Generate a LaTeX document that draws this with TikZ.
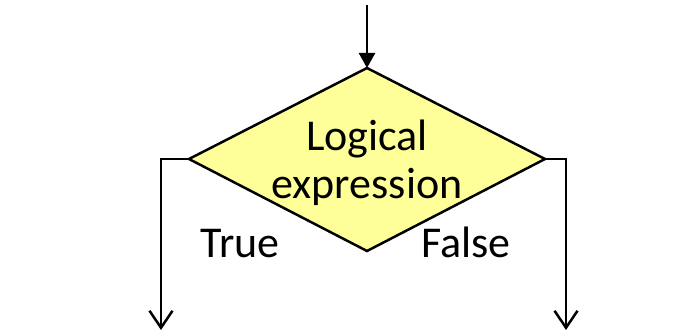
\documentclass[tikz,border=0pt]{standalone}
\usepackage{fontspec}
\setmainfont{Carlito}
\usetikzlibrary{arrows.meta,shapes.geometric}
\definecolor{decfill}{RGB}{255,255,153}
\tikzset{
  line/.style={line width=2.5pt, line join=miter},
  label/.style={font=\fontsize{44}{48}\selectfont, inner sep=0pt},
}
\begin{document}
\begin{tikzpicture}[x=1pt,y=-1pt]
\useasboundingbox (0,0) rectangle (696,331);
\coordinate (T) at (367,68);
\coordinate (L) at (189,159);
\coordinate (R) at (545,159);
\coordinate (B) at (367,251);
\coordinate (start) at (367,5);
\coordinate (lc) at (161,159);
\coordinate (rc) at (566,159);
\coordinate (lend) at (161,330);
\coordinate (rend) at (566,330);
\filldraw[line, fill=decfill] (T) -- (R) -- (B) -- (L) -- cycle;
\node[label, align=center] (cond) at (367,163) {Logical\\expression};
\node[label, anchor=base] (true) at (240,257) {True};
\node[label, anchor=base] (false) at (466,257) {False};
\draw[line, -{Triangle[length=15pt,width=16pt]}] (start) -- (T);
\draw[line, -{Straight Barb[length=17pt,width=23pt,line width=2.5pt]}] (L) -- (lc) -- (lend);
\draw[line, -{Straight Barb[length=17pt,width=23pt,line width=2.5pt]}] (R) -- (rc) -- (rend);
\end{tikzpicture}
\end{document}
